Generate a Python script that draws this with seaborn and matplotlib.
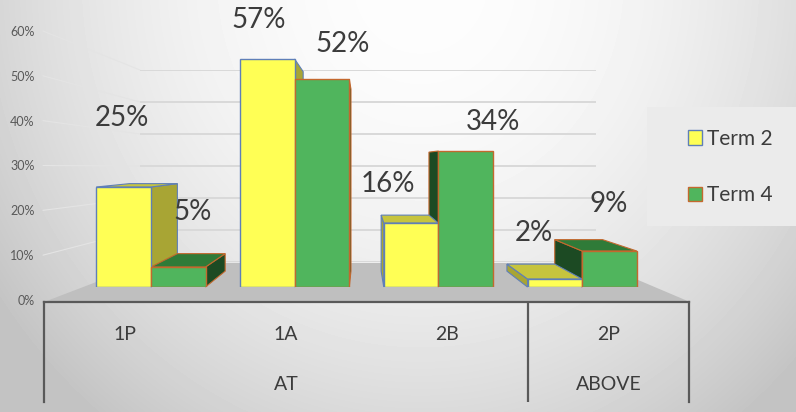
import numpy as np
import pandas as pd
import matplotlib
matplotlib.use("Agg")
import matplotlib.pyplot as plt
from matplotlib.patches import Polygon, Rectangle, ConnectionPatch
import seaborn as sns

# ---------------- data ----------------
levels = ["1P", "1A", "2B", "2P"]
groups = ["AT", "AT", "AT", "ABOVE"]
terms = ["Term 2", "Term 4"]
term2 = [0.25, 0.57, 0.16, 0.02]
term4 = [0.05, 0.52, 0.34, 0.09]
y_ticks = [0.0, 0.1, 0.2, 0.3, 0.4, 0.5, 0.6]
y_tick_labels = ["0%", "10%", "20%", "30%", "40%", "50%", "60%"]

# ---------------- layout / style ----------------
W, H = 796, 412
YELLOW, GREEN = "#ffff55", "#50b55d"
YELLOW_EDGE, GREEN_EDGE = "#5f7fb8", "#c4682e"
SIDE = {0: "#a8a534", 1: "#1c4a23"}
TOP = {0: "#c6c43e", 1: "#2f7b38"}
TEXT = "#3c3c3c"
VANISH = (363, 160)       # perspective vanishing point (image px)
DEPTH = 0.125             # fraction toward vanishing point
label_offsets = [[(-2, 69), (-9, 39), (-23, 39), (-21, 46)],
                 [(14, 55), (21, 35), (27, 29), (-1, 47)]]

sns.set_theme(style="white")
plt.rcParams["font.family"] = ["Lato", "DejaVu Sans"]

fig = plt.figure(figsize=(W / 100, H / 100), dpi=100)


def box(x0, y0, x1, y1):
    return [x0 / W, 1 - y1 / H, (x1 - x0) / W, (y1 - y0) / H]


# background with radial gradient
bg = fig.add_axes([0, 0, 1, 1], zorder=0)
xx, yy = np.meshgrid(np.arange(W), np.arange(H))
r2 = ((xx - 420) / 480.0) ** 2 + ((yy + 20) / 520.0) ** 2
g = np.clip(253 - 50 * r2, 196, 253)
bg.imshow(g, cmap="gray", vmin=0, vmax=255, extent=(0, W, H, 0), aspect="auto", interpolation="bilinear")
bg.set_xlim(0, W)
bg.set_ylim(H, 0)
bg.axis("off")
# floor
bg.add_patch(Polygon([(44, 302), (146, 263), (598, 263), (690, 302)], closed=True,
                     facecolor="#bfbfbf", edgecolor="none", zorder=2))
# legend box
bg.add_patch(Rectangle((647, 107), 149, 119, facecolor="#ebebeb", edgecolor="none", zorder=2))

# back wall gridlines
wall = fig.add_axes(box(140, 70, 596, 262), zorder=1)
wall.set_ylim(0, 0.6)
wall.set_yticks(y_ticks)
wall.yaxis.grid(True, color="#d9d9d9", lw=1.4)
wall.set_xticks([])
wall.tick_params(left=False, labelleft=False)
wall.patch.set_alpha(0)
for s in wall.spines.values():
    s.set_visible(False)

# y tick labels (front-left edge)
tickax = fig.add_axes(box(43, 31, 44, 300), zorder=1)
tickax.set_ylim(0, 0.6)
tickax.set_yticks(y_ticks)
tickax.set_yticklabels(y_tick_labels, fontsize=9, color="#595959")
tickax.tick_params(axis="y", length=0, pad=6)
tickax.set_xticks([])
tickax.patch.set_alpha(0)
for s in tickax.spines.values():
    s.set_visible(False)
# side-wall gridlines
for v in y_ticks[1:]:
    cp = ConnectionPatch(xyA=(0, v), coordsA=tickax.transData, xyB=(0, v), coordsB=wall.transData,
                         color="#e4e4e4", lw=0.8, zorder=1)
    fig.add_artist(cp)

# bottom category box
bot = fig.add_axes(box(44, 302, 689, 402), zorder=3)
bot.set_xlim(0, len(levels))
bot.set_ylim(0, 1)
bot.patch.set_alpha(0)
bot.set_xticks([])
bot.set_yticks([])
for side in ["top", "left", "right"]:
    bot.spines[side].set_visible(True)
    bot.spines[side].set_color("#595959")
    bot.spines[side].set_linewidth(1.6)
bot.spines["bottom"].set_visible(False)
for i, lv in enumerate(levels):
    bot.text(i + 0.5, 0.67, lv, ha="center", va="center", fontsize=14, color=TEXT)
seen = []
for gname in groups:
    if gname not in seen:
        seen.append(gname)
for gname in seen:
    idx = [i for i, gg in enumerate(groups) if gg == gname]
    bot.text((idx[0] + idx[-1]) / 2 + 0.5, 0.17, gname, ha="center", va="center", fontsize=14, color=TEXT)
    if idx[0] > 0:
        bot.axvline(idx[0], color="#595959", lw=1.6)

# main bars
ax = fig.add_axes(box(79, 27, 654, 287), zorder=4)
df = pd.DataFrame({
    "level": levels * 2,
    "pct": term2 + term4,
    "term": [terms[0]] * len(levels) + [terms[1]] * len(levels),
})
sns.barplot(data=df, x="level", y="pct", hue="term", order=levels, hue_order=terms,
            palette=[YELLOW, GREEN], width=0.76, saturation=1, ax=ax, legend=False, zorder=3)
ax.set_xlim(-0.5, len(levels) - 0.5)
ax.set_ylim(0, 0.65)
ax.patch.set_alpha(0)
ax.set_xticks([])
ax.set_yticks([])
ax.set_xlabel("")
ax.set_ylabel("")
for s in ax.spines.values():
    s.set_visible(False)

edges = [YELLOW_EDGE, GREEN_EDGE]
Vd = np.array([VANISH[0], H - VANISH[1]], dtype=float)
inv = ax.transData.inverted()


def back(p):
    return Vd + (1 - DEPTH) * (p - Vd)


for hi, cont in enumerate(ax.containers):
    for bi, rect in enumerate(cont.patches):
        rect.set_edgecolor(edges[hi])
        rect.set_linewidth(1.0)
        x0, w, h = rect.get_x(), rect.get_width(), rect.get_height()
        BL, BR, TR, TL = [ax.transData.transform(p) for p in [(x0, 0), (x0 + w, 0), (x0 + w, h), (x0, h)]]
        bBL, bBR, bTR, bTL = back(BL), back(BR), back(TR), back(TL)
        faces = []
        if BR[0] < Vd[0]:
            faces.append(([TR, bTR, bBR, BR], SIDE[hi], 2.0))
        if BL[0] > Vd[0]:
            faces.append(([TL, bTL, bBL, BL], SIDE[hi], 2.0))
        if TL[1] < Vd[1]:
            faces.append(([TL, TR, bTR, bTL], TOP[hi], 2.5))
        for pts, col, z in faces:
            dpts = inv.transform(np.array(pts))
            ax.add_patch(Polygon(dpts, closed=True, facecolor=col, edgecolor=edges[hi],
                                 lw=0.8, zorder=z, clip_on=False))
        vals = term2 if hi == 0 else term4
        ax.annotate(f"{round(vals[bi] * 100)}%", xy=(x0 + w / 2, h),
                    xytext=label_offsets[hi][bi], textcoords="offset pixels",
                    ha="center", va="center", fontsize=20, color=TEXT, zorder=6,
                    annotation_clip=False)

# legend
leg = fig.legend(handles=list(ax.containers), labels=terms, loc="center left",
                 bbox_to_anchor=(688 / W, 1 - 167 / H), frameon=False, fontsize=15,
                 handlelength=0.65, handleheight=0.7, handletextpad=0.25, labelspacing=1.75,
                 borderaxespad=0, borderpad=0, labelcolor=TEXT)

fig.savefig("out.png", dpi=100)
